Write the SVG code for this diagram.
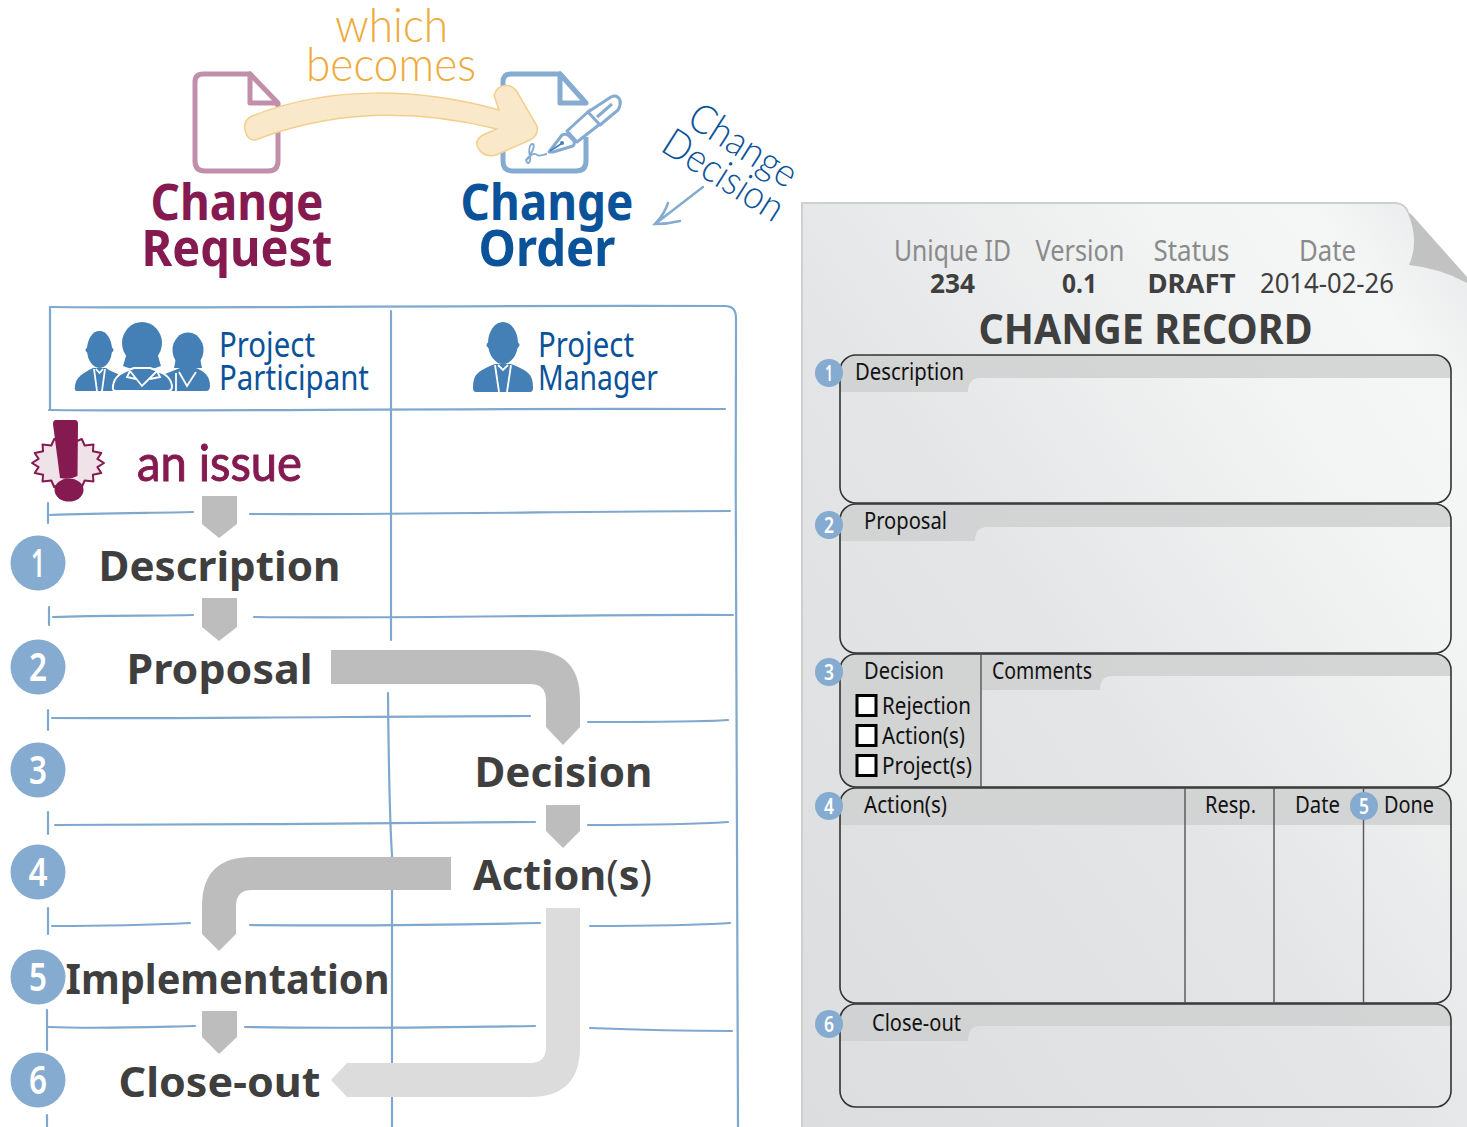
<svg xmlns="http://www.w3.org/2000/svg" width="1467" height="1127" viewBox="0 0 1467 1127">
<style>
text{font-family:"Noto Sans","Open Sans","Liberation Sans",sans-serif}
.hand{font-family:Lato,"Noto Sans",sans-serif;font-weight:300}
.step{font-size:42px;font-weight:700;fill:#3f3f3f}
.title{font-size:50px;font-weight:700;text-anchor:start}
.red{fill:#851a51}.blue{fill:#0a5299}
.role{font-size:34px;fill:#0a5299}
.meta{font-size:29px;fill:#8a8a8a}
.val{font-size:27px;fill:#3f3f3f;font-weight:700}
.lbl{font-size:24px;fill:#111}
.num{font-size:39px;fill:#fff;text-anchor:middle;font-weight:600}
.snum{font-size:21px;fill:#fff;text-anchor:middle;font-weight:600}
.grid{fill:none;stroke:#7fa8cf;stroke-width:2.2;stroke-linecap:round}
.flow{fill:#bdbdbd}
.flow2{fill:#dcdcdc}
.dot{fill:#85abd0}
.box{fill:none;stroke:#333;stroke-width:1.6}
.band{fill:#cfd0d0;opacity:.85}
.div{stroke:#555;stroke-width:1.4}
.chk{fill:#fff;stroke:#000;stroke-width:3}
.ppl{fill:#4480b5}
.wl{fill:none;stroke:#fff;stroke-width:1.8}
.pen{fill:#fff;stroke:#85abd0;stroke-width:3;stroke-linejoin:round}
</style>
<defs>
<linearGradient id="paper" x1="0" y1="1" x2="1" y2="0">
<stop offset="0" stop-color="#dcddde"/><stop offset=".45" stop-color="#e4e5e6"/><stop offset=".75" stop-color="#f2f3f3"/><stop offset=".88" stop-color="#f5f6f6"/><stop offset="1" stop-color="#e6e7e8"/>
</linearGradient>
</defs>
<rect width="1467" height="1127" fill="#fff"/>

<g id="change-request">
<path d="M203 74H250L278 105V161Q278 171 268 171H205Q195 171 195 161V82Q195 74 203 74Z" fill="#fff" stroke="#c28fab" stroke-width="5"/>
<path d="M250 74V103H278Z" fill="#fff" stroke="#c28fab" stroke-width="5" stroke-linejoin="round"/>
<text class="title red" x="150.500" y="220" textLength="173" lengthAdjust="spacingAndGlyphs">Change</text>
<text class="title red" x="141.500" y="266" textLength="191" lengthAdjust="spacingAndGlyphs">Request</text>
</g>
<g id="change-order">
<path d="M586 137V161Q586 171 576 171H513Q503 171 503 161V82Q503 74 511 74H560L586 104" fill="#fff" stroke="#85abd0" stroke-width="5"/>
<path d="M560 74V103H586Z" fill="#fff" stroke="#85abd0" stroke-width="5" stroke-linejoin="round"/>
<path class="pen" d="M549 152L562 135Q566 133 569 136L574 141Q575 144 573 146L553 152Z"/>
<path class="pen" d="M567 131L590 110L600 124L577 142Z"/>
<path class="pen" d="M588 112L611 97Q617 94 620 100Q621 105 618 110L600 125Z"/>
<path d="M597 117L612 104" fill="none" stroke="#85abd0" stroke-width="3"/>
<circle cx="562" cy="143" r="2" fill="#4480b5"/>
<path d="M550 151L561 144" stroke="#4480b5" stroke-width="1.5" fill="none"/>
<path d="M527 160C532 153 535 146 533 144C530 143 528 150 530 156C531 164 527 165 526 160C528 156 535 152 537 155C540 157 544 154 547 154" fill="none" stroke="#85abd0" stroke-width="1.8"/>
<text class="title blue" x="460.500" y="220" textLength="173" lengthAdjust="spacingAndGlyphs">Change</text>
<text class="title blue" x="478.500" y="266" textLength="137" lengthAdjust="spacingAndGlyphs">Order</text>
</g>
<g id="which-becomes">
<path d="M252 116C330 85 420 88 499 110L494 95Q498 83 510 86Q516 88 520 97L537 126Q539 135 530 140L496 155Q484 158 478 148Q474 140 483 135L497 129C420 110 340 108 258 139Q248 143 245 130Q243 120 252 116Z" fill="#f9e8c9" stroke="#f3cf8e" stroke-width="1.5"/>
<text class="hand" x="335" y="42" font-size="48" fill="#eeaa3a" textLength="113" lengthAdjust="spacingAndGlyphs">which</text>
<text class="hand" x="306" y="81" font-size="48" fill="#eeaa3a" textLength="170" lengthAdjust="spacingAndGlyphs">becomes</text>
</g>
<g id="change-decision">
<text class="hand" font-size="40" fill="#0a5299" transform="translate(685 124) rotate(32.500)" textLength="121" lengthAdjust="spacingAndGlyphs">Change</text>
<text class="hand" font-size="40" fill="#0a5299" transform="translate(659 150) rotate(32.500)" textLength="136" lengthAdjust="spacingAndGlyphs">Decision</text>
<path d="M703 187L655 224M668 203Q664 215 655 224Q668 224 680 221" fill="none" stroke="#85abd0" stroke-width="2.500" stroke-linecap="round"/>
</g>

<g id="connectors">
<g id="swimlanes" class="grid">
<path d="M50 307C200 309 400 305 725 306Q736 306 736 318C735 600 737 900 738 1127"/>
<path d="M50 307V410M391 311V640M388 693C389 800 391 840 392 855M392 853V1127"/>
<path d="M49 410C200 412 400 408 725 409"/>
<path d="M50 515C100 513 150 513 193 512M250 514C400 515 600 511 730 511"/>
<path d="M53 617C100 615 150 616 193 615M254 617C400 619 600 614 733 615"/>
<path d="M52 718C200 719 400 716 530 716M588 722C640 722 700 722 728 720"/>
<path d="M55 825C200 825 400 823 535 822M588 825C640 825 700 824 728 822"/>
<path d="M52 926C100 926 150 925 190 923M250 925C350 926 450 925 540 923M590 926C640 926 700 925 730 923"/>
<path d="M48 1027C100 1029 150 1027 195 1026M245 1027C350 1029 450 1027 535 1026M590 1028C640 1030 700 1031 732 1031"/>
<path d="M48 503V523M49 607V625M48 710V730M48 812V834M48 908V934M47 1010V1050M47 1115V1127"/>
</g>
<path class="flow" d="M202 496H237V524L219 538L202 524Z"/>
<path class="flow" d="M202 598H237V627L219 641L202 627Z"/>
<path class="flow" d="M331 650H530Q580 650 580 700V727L563 745L546 727V700Q546 684 530 684H331Z"/>
<path class="flow" d="M546 805H580V831L563 848L546 831Z"/>
<path class="flow" d="M451 857V890H252Q236 890 236 906V934L219 951L202 934V906Q202 857 252 857Z"/>
<path class="flow" d="M202 1011H237V1037L219 1054L202 1037Z"/>
<path class="flow2" d="M546 908H580V1047Q580 1097 530 1097H347L331 1080L347 1063H530Q546 1063 546 1047Z"/>
</g>

<g id="project-participant">
<g class="ppl">
<ellipse cx="99.500" cy="349.500" rx="12.500" ry="18.500"/><ellipse cx="99.500" cy="350" rx="14" ry="5"/>
<path d="M77 391Q74 391 75 386C76 377 83 373 93 368H106C110 371 114 372 118 374V391Z"/>
<path class="wl" d="M94 369L97 391M105 369L102 391M96 369L99.500 373L103 369"/>
<ellipse cx="188" cy="350" rx="15.500" ry="17.500"/><path d="M176 358H200L202 368H174Z"/>
<path d="M165 391V374L180 368H196C205 372 210 376 210 386Q210 391 206 391Z"/>
<path class="wl" d="M179 372L187 386L196 372M176 373V391"/>
<ellipse cx="142" cy="343" rx="20" ry="21"/><path d="M126 356H158L161 366L150 370H134L123 366Z"/>
<path d="M116 391Q112 391 113 386C114 376 122 372 134 368H150C162 372 171 376 172 386Q172 391 168 391Z" stroke="#fff" stroke-width="2"/>
<path class="wl" d="M130 371L142 386L157 371M130 371L127 377L136 379M157 371L160 377L150 379"/>
</g>
<text class="role" x="219" y="357" textLength="96" lengthAdjust="spacingAndGlyphs">Project</text>
<text class="role" x="219" y="390" textLength="150" lengthAdjust="spacingAndGlyphs">Participant</text>
</g>
<g id="project-manager">
<g class="ppl">
<ellipse cx="503" cy="343" rx="15" ry="21"/><ellipse cx="503" cy="345" rx="16.500" ry="6"/>
<path d="M476 392Q473 392 473 388C473 375 477 371 495 364H511C529 371 533 375 533 388Q533 392 530 392Z"/>
<path class="wl" d="M495 365L499 392M511 365L507 392M498 365L503 370L508 365"/>
</g>
<text class="role" x="538" y="357" textLength="96" lengthAdjust="spacingAndGlyphs">Project</text>
<text class="role" x="538" y="390" textLength="120" lengthAdjust="spacingAndGlyphs">Manager</text>
</g>
<g id="issue">
<polygon points="104,463 97.4,467.1 101.3,473 92.9,474.7 93.5,481.4 84.7,480.5 81.8,487 73.9,483.6 68,489 62.1,483.6 54.2,487 51.3,480.5 42.5,481.4 43.1,474.7 34.7,473 38.6,467.1 32,463 38.6,458.900 34.7,453 43.1,451.3 42.5,444.6 51.3,445.5 54.2,439 62.1,442.4 68,437 73.9,442.4 81.8,439 84.7,445.5 93.5,444.6 92.9,451.3 101.3,453 97.4,458.900" fill="#f0e2e9" stroke="#851a51" stroke-width="2" stroke-linejoin="round"/>
<path d="M56 420H75Q78 420 78 424L77.500 476Q70 480 60 478L53 424Q53 420 56 420Z" fill="#851a51"/>
<ellipse cx="69" cy="490" rx="14.500" ry="11.500" fill="#851a51"/>
<text class="hand" x="137" y="481" font-size="50" fill="#851a51" style="font-weight:400" stroke="#851a51" stroke-width="1" textLength="165" lengthAdjust="spacingAndGlyphs">an issue</text>
</g>

<g id="step-1"><circle class="dot" cx="38" cy="563" r="27.500"/><text class="num" x="38" y="577" textLength="14" lengthAdjust="spacingAndGlyphs">1</text><text class="step" x="98.500" y="581" textLength="242" lengthAdjust="spacingAndGlyphs">Description</text></g>
<g id="step-2"><circle class="dot" cx="38" cy="667" r="27.500"/><text class="num" x="38" y="681" textLength="18" lengthAdjust="spacingAndGlyphs">2</text><text class="step" x="126.500" y="684" textLength="186" lengthAdjust="spacingAndGlyphs">Proposal</text></g>
<g id="step-3"><circle class="dot" cx="38" cy="770" r="27.500"/><text class="num" x="38" y="784" textLength="18" lengthAdjust="spacingAndGlyphs">3</text><text class="step" x="474.500" y="787" textLength="178" lengthAdjust="spacingAndGlyphs">Decision</text></g>
<g id="step-4"><circle class="dot" cx="38" cy="872" r="27.500"/><text class="num" x="38" y="886" textLength="19" lengthAdjust="spacingAndGlyphs">4</text><text class="step" x="473" y="890" textLength="179" lengthAdjust="spacingAndGlyphs">Action<tspan style="font-weight:400">(</tspan>s<tspan style="font-weight:400">)</tspan></text></g>
<g id="step-5"><circle class="dot" cx="38" cy="977" r="27.500"/><text class="num" x="38" y="991" textLength="18" lengthAdjust="spacingAndGlyphs">5</text><text class="step" x="65.500" y="994" textLength="324" lengthAdjust="spacingAndGlyphs">Implementation</text></g>
<g id="step-6"><circle class="dot" cx="38" cy="1080" r="27.500"/><text class="num" x="38" y="1094" textLength="18" lengthAdjust="spacingAndGlyphs">6</text><text class="step" x="118.500" y="1097" textLength="202" lengthAdjust="spacingAndGlyphs">Close-out</text></g>

<g id="change-record">
<path d="M802 1127V203H1396Q1405 204 1408 212L1467 282V1127Z" fill="url(#paper)"/>
<path d="M802 1127V203H1396Q1405 204 1408 212" fill="none" stroke="#cfcfcf" stroke-width="2"/>
<path d="M1407 211Q1420 240 1409 265Q1440 268 1467 283V277L1412 215Z" fill="#c2c2c2"/>
<text class="meta" x="894" y="261" textLength="117" lengthAdjust="spacingAndGlyphs">Unique ID</text>
<text class="meta" x="1035.500" y="261" textLength="89" lengthAdjust="spacingAndGlyphs">Version</text>
<text class="meta" x="1153.500" y="261" textLength="76" lengthAdjust="spacingAndGlyphs">Status</text>
<text class="meta" x="1299" y="261" textLength="57" lengthAdjust="spacingAndGlyphs">Date</text>
<text class="val" x="930" y="293" textLength="45" lengthAdjust="spacingAndGlyphs">234</text>
<text class="val" x="1062" y="293" textLength="35" lengthAdjust="spacingAndGlyphs">0.1</text>
<text class="val" x="1147.500" y="293" textLength="88" lengthAdjust="spacingAndGlyphs">DRAFT</text>
<text class="val" x="1260" y="293" textLength="134" lengthAdjust="spacingAndGlyphs" style="font-weight:400">2014-02-26</text>
<text x="978.500" y="344" font-size="42" font-weight="700" fill="#3f3f3f" textLength="334" lengthAdjust="spacingAndGlyphs">CHANGE RECORD</text>
</g>

<g id="box-description">
<path class="band" d="M840 371Q840 355 856 355H1435Q1451 355 1451 371V378H980Q968 378 968 392H840Z"/>
<rect class="box" x="840" y="355" width="611" height="148" rx="16"/>
<circle class="dot" cx="829" cy="373" r="14"/><text class="snum" x="829" y="381" textLength="8" lengthAdjust="spacingAndGlyphs">1</text>
<text class="lbl" x="855" y="380" textLength="109" lengthAdjust="spacingAndGlyphs">Description</text>
</g>
<g id="box-proposal">
<path class="band" d="M840 520Q840 504 856 504H1435Q1451 504 1451 520V527H987Q975 527 975 541H840Z"/>
<rect class="box" x="840" y="504" width="611" height="149" rx="16"/>
<circle class="dot" cx="829" cy="525" r="14"/><text class="snum" x="829" y="533" textLength="10" lengthAdjust="spacingAndGlyphs">2</text>
<text class="lbl" x="864" y="529" textLength="83" lengthAdjust="spacingAndGlyphs">Proposal</text>
</g>
<g id="box-decision">
<path class="band" d="M840 670Q840 654 856 654H981V787H856Q840 787 840 771Z"/>
<path class="band" d="M981 654H1435Q1451 654 1451 670V676H1112Q1100 676 1100 690H981Z"/>
<rect class="box" x="840" y="654" width="611" height="133" rx="16"/>
<line class="div" x1="981" y1="654" x2="981" y2="787"/>
<circle class="dot" cx="829" cy="672" r="14"/><text class="snum" x="829" y="680" textLength="10" lengthAdjust="spacingAndGlyphs">3</text>
<text class="lbl" x="864" y="679" textLength="80" lengthAdjust="spacingAndGlyphs">Decision</text>
<text class="lbl" x="992" y="679" textLength="100" lengthAdjust="spacingAndGlyphs">Comments</text>
<rect class="chk" x="857" y="695.500" width="19" height="20"/>
<rect class="chk" x="857" y="725.500" width="19" height="20"/>
<rect class="chk" x="857" y="755.500" width="19" height="20"/>
<text class="lbl" x="882" y="714" textLength="89" lengthAdjust="spacingAndGlyphs">Rejection</text>
<text class="lbl" x="882" y="744" textLength="83" lengthAdjust="spacingAndGlyphs">Action(s)</text>
<text class="lbl" x="882" y="774" textLength="90" lengthAdjust="spacingAndGlyphs">Project(s)</text>
</g>
<g id="box-actions">
<path class="band" d="M840 804Q840 788 856 788H1435Q1451 788 1451 804V825H840Z"/>
<rect class="box" x="840" y="788" width="611" height="215" rx="16"/>
<line class="div" x1="1185" y1="788" x2="1185" y2="1003"/>
<line class="div" x1="1274" y1="788" x2="1274" y2="1003"/>
<line class="div" x1="1363.500" y1="788" x2="1363.500" y2="1003"/>
<circle class="dot" cx="829" cy="806" r="14"/><text class="snum" x="829" y="814" textLength="10" lengthAdjust="spacingAndGlyphs">4</text>
<text class="lbl" x="864" y="813" textLength="83" lengthAdjust="spacingAndGlyphs">Action(s)</text>
<text class="lbl" x="1205" y="813" textLength="51" lengthAdjust="spacingAndGlyphs">Resp.</text>
<text class="lbl" x="1295" y="813" textLength="45" lengthAdjust="spacingAndGlyphs">Date</text>
<circle class="dot" cx="1364" cy="806" r="14"/><text class="snum" x="1364" y="814" textLength="10" lengthAdjust="spacingAndGlyphs">5</text>
<text class="lbl" x="1384" y="813" textLength="50" lengthAdjust="spacingAndGlyphs">Done</text>
</g>
<g id="box-closeout">
<path class="band" d="M840 1020Q840 1004 856 1004H1435Q1451 1004 1451 1020V1026H980Q968 1026 968 1041H840Z"/>
<rect class="box" x="840" y="1004" width="611" height="103" rx="16"/>
<circle class="dot" cx="829" cy="1024" r="14"/><text class="snum" x="829" y="1032" textLength="10" lengthAdjust="spacingAndGlyphs">6</text>
<text class="lbl" x="872" y="1031" textLength="89" lengthAdjust="spacingAndGlyphs">Close-out</text>
</g>
</svg>
